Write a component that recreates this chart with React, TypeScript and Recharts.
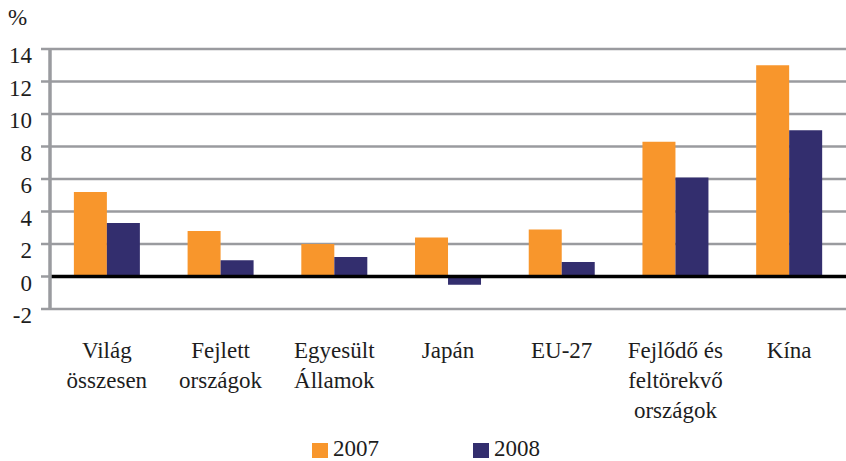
import React from 'react';
import {
  BarChart,
  Bar,
  XAxis,
  YAxis,
  CartesianGrid,
  ReferenceLine,
  Legend,
} from 'recharts';

const categories = [
  'Világ\nösszesen',
  'Fejlett\nországok',
  'Egyesült\nÁllamok',
  'Japán',
  'EU-27',
  'Fejlődő és\nfeltörekvő\nországok',
  'Kína',
];
const values2007 = [5.2, 2.8, 2.0, 2.4, 2.9, 8.3, 13.0];
const values2008 = [3.3, 1.0, 1.2, -0.5, 0.9, 6.1, 9.0];
const yTicks = [-2, 0, 2, 4, 6, 8, 10, 12, 14];

const ORANGE = '#F8962C';
const NAVY = '#332E6E';
const GRID = '#9a9b9f';
const FONT = 'Liberation Serif';
const TEXT = '#1d1d1d';

const data = categories.map((name, i) => ({
  name,
  y2007: values2007[i],
  y2008: values2008[i],
}));

// y tengely feliratai kicsit lejjebb ülnek a rácsvonalhoz képest
const YTick = ({ x, y, payload }: any) => (
  <text
    x={x}
    y={y + 6}
    dy="0.355em"
    textAnchor="end"
    fill={TEXT}
    fontFamily={FONT}
    fontSize={23}
  >
    {payload.value}
  </text>
);

// többsoros kategóriafeliratok
const XTick = ({ x, y, payload }: any) => {
  const lines = String(payload.value).split('\n');
  return (
    <text
      x={x}
      y={y}
      textAnchor="middle"
      fill={TEXT}
      fontFamily={FONT}
      fontSize={23}
    >
      {lines.map((line, i) => (
        <tspan key={i} x={x} dy={i === 0 ? 41 : 30}>
          {line}
        </tspan>
      ))}
    </text>
  );
};

const LegendContent = () => (
  <div
    style={{
      height: 30,
      position: 'relative',
      fontFamily: FONT,
      fontSize: 23,
      color: TEXT,
    }}
  >
    <span
      style={{
        position: 'absolute',
        left: 312,
        top: 12,
        width: 16,
        height: 15,
        background: ORANGE,
      }}
    />
    <span style={{ position: 'absolute', left: 333, top: 4, lineHeight: '28px' }}>
      2007
    </span>
    <span
      style={{
        position: 'absolute',
        left: 473,
        top: 12,
        width: 16,
        height: 15,
        background: NAVY,
      }}
    />
    <span style={{ position: 'absolute', left: 494, top: 4, lineHeight: '28px' }}>
      2008
    </span>
  </div>
);

const App: React.FC = () => {
  return (
    <div style={{ position: 'absolute', left: 0, top: 0, background: '#fff' }}>
      <BarChart
        width={846}
        height={461}
        data={data}
        margin={{ top: 49, right: 0, bottom: 0, left: 0 }}
        barCategoryGap="21%"
        barGap={0}
      >
        <CartesianGrid vertical={false} stroke={GRID} strokeWidth={2.5} />
        <XAxis
          dataKey="name"
          axisLine={false}
          tickLine={false}
          interval={0}
          height={122}
          tick={<XTick />}
        />
        <YAxis
          domain={[-2, 14]}
          ticks={yTicks}
          interval={0}
          width={50}
          tickSize={9}
          tickMargin={9}
          axisLine={{ stroke: GRID, strokeWidth: 3.5 }}
          tickLine={{ stroke: GRID, strokeWidth: 2.5 }}
          tick={<YTick />}
          label={{
            content: () => (
              <text x={8} y={25} fill={TEXT} fontFamily={FONT} fontSize={23}>
                %
              </text>
            ),
          }}
        />
        <ReferenceLine y={0} stroke="#000" strokeWidth={3.5} />
        <Legend verticalAlign="bottom" height={30} content={<LegendContent />} />
        <Bar dataKey="y2007" name="2007" fill={ORANGE} isAnimationActive={false} />
        <Bar dataKey="y2008" name="2008" fill={NAVY} isAnimationActive={false} />
      </BarChart>
    </div>
  );
};

export default App;
